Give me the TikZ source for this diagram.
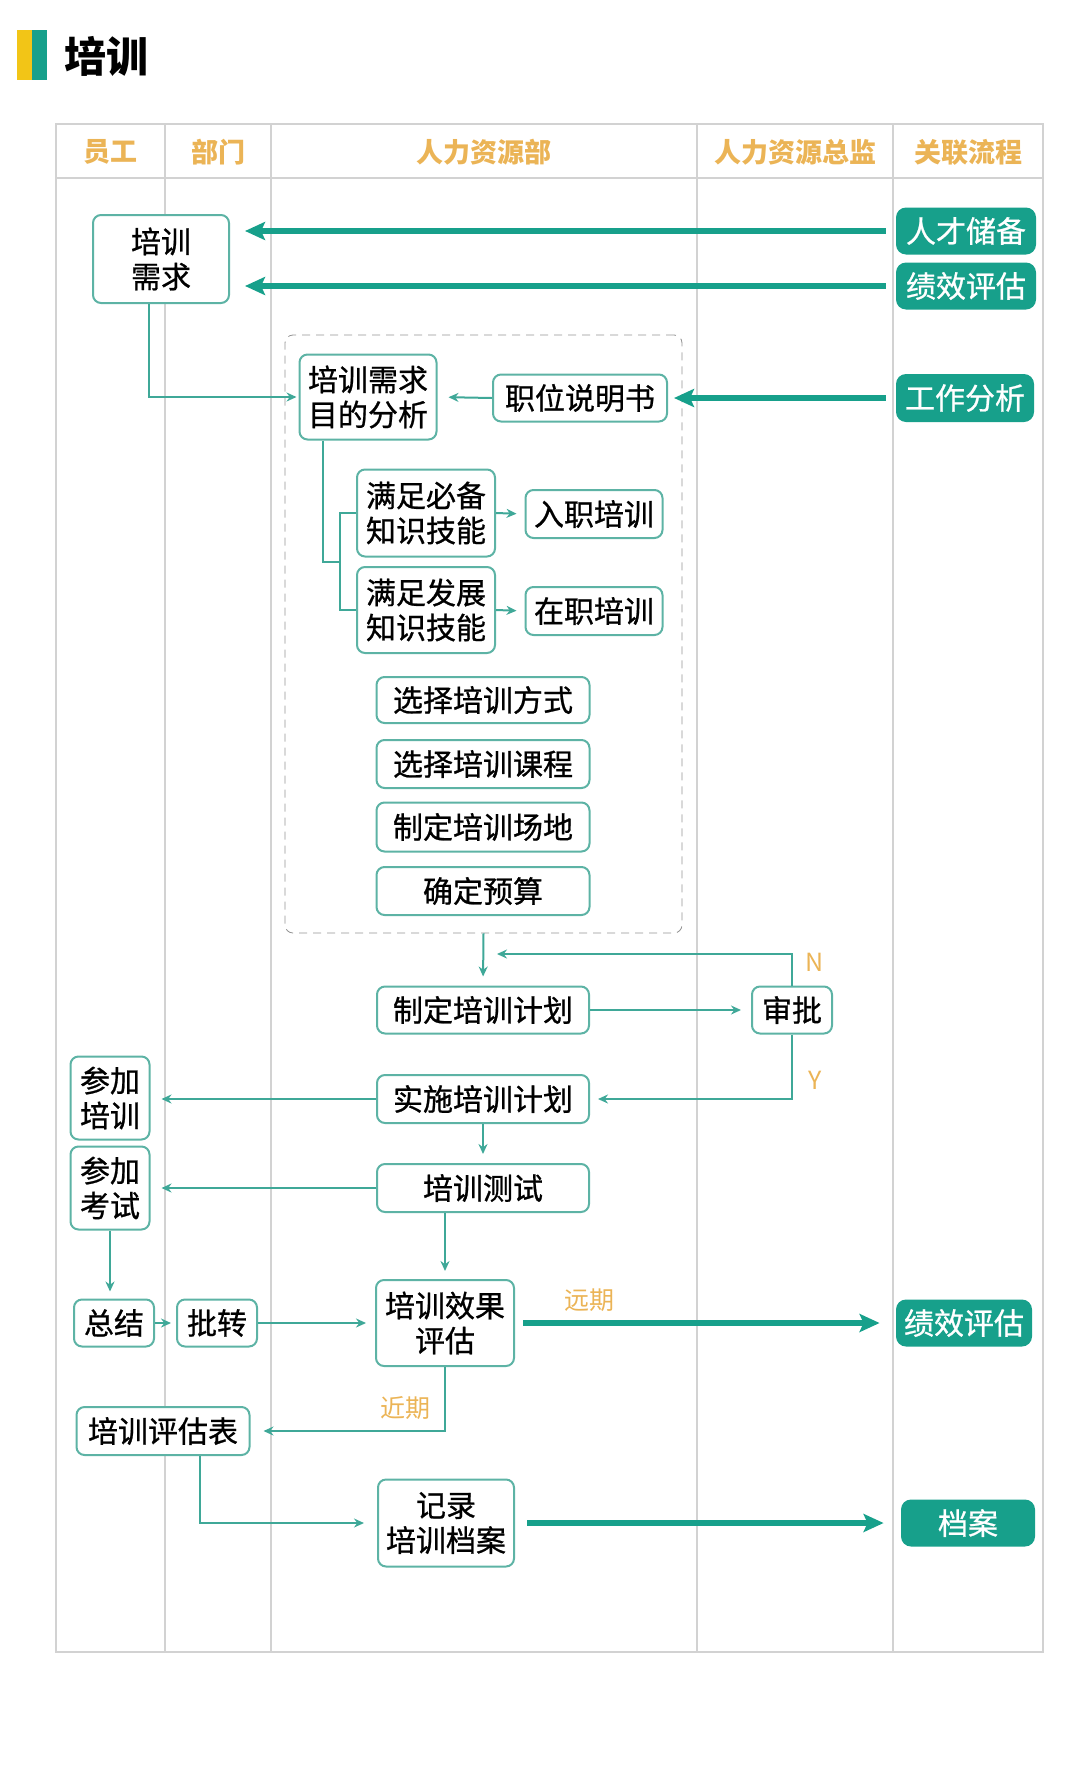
\documentclass[tikz,border=0pt]{standalone}
\usepackage{fontspec}
\usepackage{tikz}
\usetikzlibrary{arrows.meta}
\newfontfamily\cjk{Noto Sans CJK SC}
\newfontfamily\cjkbox[FakeBold=0.8]{Noto Sans CJK SC}
\definecolor{FlowTeal}{HTML}{17A08B}
\definecolor{LineTeal}{HTML}{3FA898}
\definecolor{BoxEdge}{HTML}{5DB3A5}
\definecolor{HeadAmber}{HTML}{EBB456}
\definecolor{GridGray}{HTML}{D2D2D2}
\definecolor{TitleGold}{HTML}{F2C517}

\begin{document}
\begin{tikzpicture}[x=0.5pt, y=-0.5pt,
  every node/.style={font=\cjk},
  task/.style={draw=BoxEdge, line width=1pt, rounded corners=4pt, fill=white, align=center,
    inner sep=0pt, font=\cjkbox\fontsize{15pt}{17.5pt}\selectfont},
  link/.style={fill=FlowTeal, text=white, rounded corners=5pt, inner sep=0pt,
    font=\cjkbox\fontsize{15pt}{18pt}\selectfont},
  lane/.style={text=HeadAmber, font=\cjk\bfseries\fontsize{13.5pt}{16pt}\selectfont},
  cond/.style={text=HeadAmber, font=\cjk\fontsize{12.5pt}{15pt}\selectfont},
  flow/.style={draw=LineTeal, line width=1pt, -{Stealth[length=5pt,width=4.5pt]}},
  feed/.style={draw=FlowTeal, line width=3pt, -{Stealth[length=10pt,width=9pt,inset=2pt]}}]
  \useasboundingbox (0,0) rectangle (1066,1772);

  \fill[TitleGold] (17,30) rectangle (32,80);
  \fill[FlowTeal] (32,30) rectangle (47,80);
  \node[anchor=west, inner sep=0pt, font=\cjk\bfseries\fontsize{21pt}{24pt}\selectfont] (title) at (64,56) {培训};

  \draw[GridGray, line width=0.75pt] (56,124) rectangle (1043,1652);
  \draw[GridGray, line width=0.75pt] (56,178) -- (1043,178);
  \foreach \x in {165,271,697,893} {
    \draw[GridGray, line width=0.75pt] (\x,124) -- (\x,1652);
  }
  \node[lane] (hStaff) at (110,152) {员工};
  \node[lane] (hDept) at (218,152) {部门};
  \node[lane] (hHR) at (484,152) {人力资源部};
  \node[lane] (hChief) at (795,152) {人力资源总监};
  \node[lane] (hLink) at (968,152) {关联流程};

  \node[draw=gray!85, dashed, dash pattern=on 4pt off 3pt, rounded corners=4pt, inner sep=0pt,
    minimum width=198.5pt, minimum height=299pt] (design) at (483.5,634) {};

  \node[task, minimum width=68pt, minimum height=44pt] (need) at (161,259) {培训\\需求};
  \node[link, minimum width=70pt, minimum height=23.5pt] (talent) at (966,231) {人才储备};
  \node[link, minimum width=70pt, minimum height=23.5pt] (perfA) at (966,286) {绩效评估};
  \node[link, minimum width=69pt, minimum height=24pt] (jobana) at (965,398) {工作分析};

  \node[task, minimum width=68.5pt, minimum height=42.5pt] (purpose) at (368,397) {培训需求\\目的分析};
  \node[task, minimum width=87pt, minimum height=23.5pt] (jobdesc) at (580,398) {职位说明书};
  \node[task, minimum width=69pt, minimum height=43.5pt] (basic) at (426,513) {满足必备\\知识技能};
  \node[task, minimum width=69pt, minimum height=43pt] (develop) at (426,610) {满足发展\\知识技能};
  \node[task, minimum width=68.5pt, minimum height=24pt] (induct) at (594,514) {入职培训};
  \node[task, minimum width=68.5pt, minimum height=24pt] (onjob) at (594,611) {在职培训};
  \node[task, minimum width=106.5pt, minimum height=23pt] (mode) at (483,700) {选择培训方式};
  \node[task, minimum width=106.5pt, minimum height=24pt] (course) at (483,764) {选择培训课程};
  \node[task, minimum width=106.5pt, minimum height=24.5pt] (venue) at (483,827) {制定培训场地};
  \node[task, minimum width=106.5pt, minimum height=24pt] (budget) at (483,891) {确定预算};

  \node[task, minimum width=106pt, minimum height=23.5pt] (plan) at (483,1010) {制定培训计划};
  \node[task, minimum width=40pt, minimum height=23.5pt] (approve) at (792,1010) {审批};
  \node[task, minimum width=106pt, minimum height=24pt] (run) at (483,1099) {实施培训计划};
  \node[task, minimum width=39.5pt, minimum height=41.5pt] (attend) at (110,1098) {参加\\培训};
  \node[task, minimum width=39.5pt, minimum height=41.5pt] (exam) at (110,1188) {参加\\考试};
  \node[task, minimum width=106pt, minimum height=24pt] (test) at (483,1188) {培训测试};
  \node[task, minimum width=69pt, minimum height=43pt] (effect) at (445,1323) {培训效果\\评估};
  \node[task, minimum width=40pt, minimum height=23.5pt] (summary) at (114,1323) {总结};
  \node[task, minimum width=40pt, minimum height=23.5pt] (forward) at (217,1323) {批转};
  \node[link, minimum width=68pt, minimum height=23.5pt] (perfB) at (964,1323) {绩效评估};
  \node[task, minimum width=86.5pt, minimum height=24pt] (form) at (163,1431) {培训评估表};
  \node[task, minimum width=68pt, minimum height=43.5pt] (record) at (446,1523) {记录\\培训档案};
  \node[link, minimum width=67pt, minimum height=23.5pt] (archive) at (968,1523) {档案};

  \draw[feed, shorten <=5pt, shorten >=7.5pt] (talent.west) -- (need.east |- talent.west);
  \draw[feed, shorten <=5pt, shorten >=7.5pt] (perfA.west) -- (need.east |- perfA.west);
  \draw[feed, shorten <=5pt, shorten >=3pt] (jobana.west) -- (jobdesc.east);
  \draw[flow, shorten >=5.5pt] (jobdesc.west) -- (purpose.west -| purpose.east);
  \draw[flow, shorten >=1pt] ([xshift=-6pt]need.south) |- (purpose.west);

  \coordinate (fork) at (340,562);
  \draw[LineTeal, line width=1pt] ([xshift=-22.5pt]purpose.south) |- (fork);
  \draw[LineTeal, line width=1pt] (basic.west) -| (fork) |- (develop.west);
  \draw[flow, shorten >=4pt] (basic.east) -- (induct.west);
  \draw[flow, shorten >=4pt] (develop.east) -- (onjob.west);

  \draw[flow, shorten >=4.5pt] (design.south) -- (plan.north);
  \draw[flow, shorten >=5pt] (plan.east) -- (approve.west);
  \coordinate (nturn) at (497,954);
  \draw[flow] (approve.north) |- (nturn);
  \node[cond] (nLab) at (815,962) {N};
  \draw[flow, shorten >=4pt] (approve.south) |- (run.east);
  \node[cond] (yLab) at (815,1080) {Y};

  \draw[flow, shorten >=5.5pt] (run.west) -- (attend.east |- run.west);
  \draw[flow, shorten >=4.5pt] (run.south) -- (test.north);
  \draw[flow, shorten >=5.5pt] (test.west) -- (exam.east);
  \draw[flow, shorten >=4pt] (effect.north |- test.south) -- (effect.north);
  \draw[flow, shorten >=3.5pt] (exam.south) -- (exam.south |- summary.north);
  \draw[flow, shorten >=2.5pt] (summary.east) -- (forward.west);
  \draw[flow, shorten >=4.5pt] (forward.east) -- (effect.west);

  \draw[feed, shorten <=4pt, shorten >=8pt] (effect.east) -- (perfB.west);
  \node[cond] (farLab) at (589,1300) {远期};
  \draw[flow, shorten >=6.5pt] (effect.south) |- (form.east);
  \node[cond] (nearLab) at (405,1408) {近期};
  \draw[flow, shorten >=6.5pt] ([xshift=18.5pt]form.south) |- (record.west);
  \draw[feed, shorten <=6pt, shorten >=8.5pt] (record.east) -- (archive.west);
\end{tikzpicture}
\end{document}
